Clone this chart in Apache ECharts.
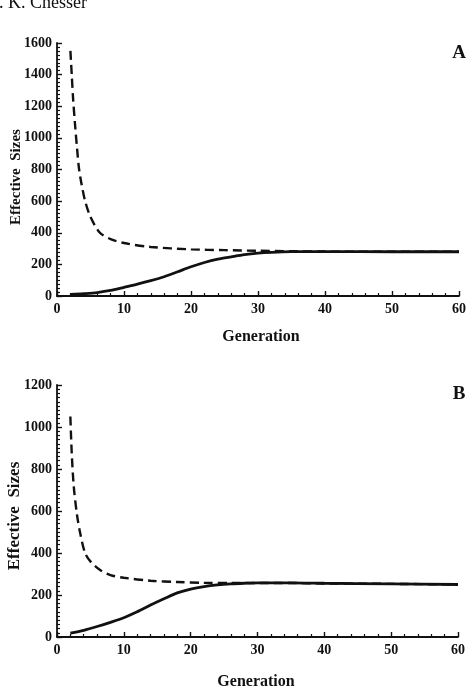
<!DOCTYPE html>
<html><head><meta charset="utf-8">
<script src="https://cdn.jsdelivr.net/npm/echarts@6/dist/echarts.min.js"></script>
<style>html,body{margin:0;padding:0;background:#fff}#c{width:471px;height:695px}</style>
</head><body><div id="c"></div>
<script>
// Panel A
const genA_dash = [2, 2.2, 2.4, 2.7, 3.0, 3.3, 3.7, 4.2, 5, 6.4, 8, 10, 14, 20, 25, 30, 35, 40, 50, 60];
const valA_dash = [1550, 1400, 1250, 1080, 930, 800, 700, 600, 500, 400, 360, 335, 310, 295, 290, 286, 283, 281, 280, 280];
const genA_solid = [2, 4, 6, 8, 10, 12, 14, 16, 18, 20, 22, 24, 26, 28, 30, 32, 35, 40, 50, 60];
const valA_solid = [10, 15, 22, 35, 55, 75, 97, 122, 153, 185, 212, 233, 248, 262, 271, 276, 280, 281, 280, 280];
// Panel B
const genB_dash = [2, 2.2, 2.5, 3.0, 3.5, 4.2, 5, 6.4, 8, 10, 14, 18, 22, 26, 30, 35, 40, 50, 60];
const valB_dash = [1050, 880, 720, 580, 490, 400, 360, 320, 295, 282, 268, 262, 258, 257, 257, 257, 255, 253, 250];
const genB_solid = [2, 4, 6, 8, 10, 12, 14, 16, 18, 20, 22, 24, 26, 28, 30, 35, 40, 50, 60];
const valB_solid = [18, 32, 50, 70, 92, 120, 152, 182, 210, 228, 240, 248, 253, 256, 258, 258, 256, 253, 250];
// Axes
const xTicks = [0, 10, 20, 30, 40, 50, 60];
const yMaxA = 1600, yMaxB = 1200;
const panelLetters = ['A', 'B'];
const xTitle = 'Generation';
const yTitle = 'Effective  Sizes';
const header = 'L. K. Chesser';

const FONT = "'Liberation Serif', 'DejaVu Serif', serif";
const INK = '#111';
const pairs = (g, v) => g.map((x, i) => [x, v[i]]);

function xAxis(grid) {
  return {
    type: 'value', gridIndex: grid, min: xTicks[0], max: xTicks[xTicks.length - 1], interval: 10,
    axisLine: { show: true, onZero: false, lineStyle: { color: INK, width: 1.8 } },
    axisTick: { show: true, inside: true, length: 5, lineStyle: { color: INK, width: 1.4 } },
    minorTick: { show: true, splitNumber: 5, length: 3, lineStyle: { color: INK, width: 1.2 } },
    splitLine: { show: false },
    axisLabel: { color: INK, fontFamily: FONT, fontSize: 14, fontWeight: 'bold', margin: 6, formatter: v => String(v) }
  };
}
function yAxis(grid, max, minors) {
  return {
    type: 'value', gridIndex: grid, min: 0, max: max, interval: 200,
    axisLine: { show: true, onZero: false, lineStyle: { color: INK, width: 1.8 } },
    axisTick: { show: true, inside: true, length: 5, lineStyle: { color: INK, width: 1.4 } },
    minorTick: { show: true, splitNumber: minors, length: 3, lineStyle: { color: INK, width: 1.2 } },
    splitLine: { show: false },
    axisLabel: { color: INK, fontFamily: FONT, fontSize: 14, fontWeight: 'bold', margin: 5, formatter: v => String(v) }
  };
}
function series(grid, data, dashed) {
  return {
    type: 'line', xAxisIndex: grid, yAxisIndex: grid, data: data, showSymbol: false, smooth: 0.3,
    lineStyle: { color: INK, width: dashed ? 2.4 : 2.8, type: dashed ? [9, 5] : 'solid' }, silent: true, z: 3
  };
}
function txt(x, y, text, size, rot) {
  return {
    type: 'text', x: x, y: y, rotation: rot || 0,
    style: { text: text, fill: INK, font: 'bold ' + size + 'px ' + FONT, textAlign: 'center', textVerticalAlign: 'middle' }
  };
}

const chart = echarts.init(document.getElementById('c'), null, { renderer: 'canvas' });
chart.setOption({
  backgroundColor: '#fff',
  animation: false,
  grid: [
    { left: 57, top: 43, width: 402, height: 253 },
    { left: 57, top: 385, width: 401, height: 252 }
  ],
  xAxis: [xAxis(0), xAxis(1)],
  yAxis: [yAxis(0, yMaxA, 8), yAxis(1, yMaxB, 10)],
  series: [
    series(0, pairs(genA_dash, valA_dash), true),
    series(0, pairs(genA_solid, valA_solid), false),
    series(1, pairs(genB_dash, valB_dash), true),
    series(1, pairs(genB_solid, valB_solid), false)
  ],
  graphic: [
    { type: 'text', x: -12, y: 12, style: { text: header, fill: INK, font: '18px ' + FONT, textAlign: 'left', textVerticalAlign: 'bottom' } },
    txt(459, 53, panelLetters[0], 19),
    txt(459, 394, panelLetters[1], 19),
    txt(261, 337, xTitle, 16),
    txt(256, 682, xTitle, 16),
    txt(16, 177, yTitle, 15, Math.PI / 2),
    txt(15, 516, yTitle, 17, Math.PI / 2)
  ]
});
</script>
</body></html>
